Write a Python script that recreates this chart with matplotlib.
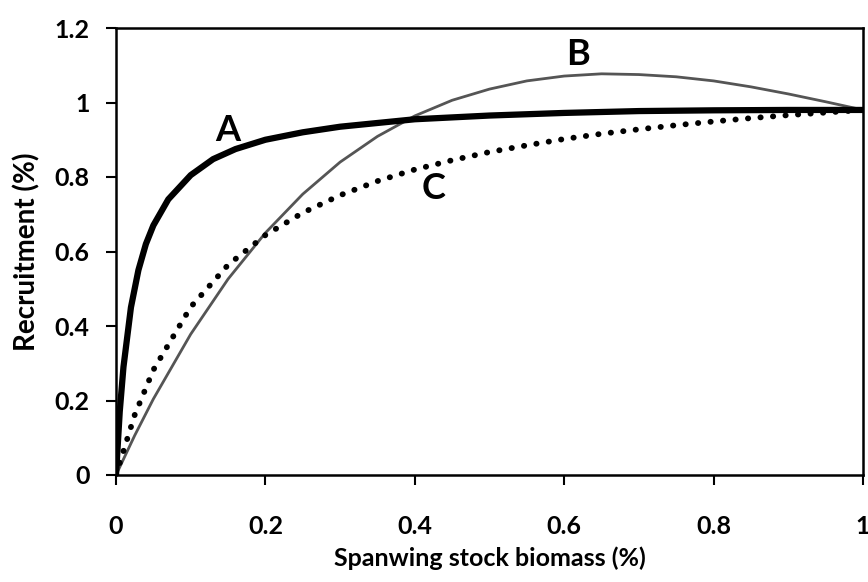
import matplotlib
matplotlib.use("Agg")
import matplotlib.pyplot as plt

# Data
x_a = [0, 0.005, 0.01, 0.02, 0.03, 0.04, 0.05, 0.07, 0.1, 0.13, 0.16, 0.2, 0.25, 0.3, 0.4, 0.5, 0.6, 0.7, 0.8, 0.9, 1.0]
y_a = [0, 0.17, 0.29, 0.45, 0.55, 0.62, 0.67, 0.74, 0.805, 0.848, 0.875, 0.90, 0.92, 0.935, 0.955, 0.965, 0.972, 0.977, 0.979, 0.98, 0.98]

x_b = [0, 0.025, 0.05, 0.1, 0.15, 0.2, 0.25, 0.3, 0.35, 0.4, 0.45, 0.5, 0.55, 0.6, 0.65, 0.7, 0.75, 0.8, 0.85, 0.9, 0.95, 1.0]
y_b = [0, 0.106, 0.204, 0.378, 0.526, 0.65, 0.754, 0.84, 0.909, 0.964, 1.006, 1.036, 1.058, 1.071, 1.077, 1.075, 1.069, 1.058, 1.042, 1.023, 1.002, 0.98]

x_c = [0, 0.025, 0.05, 0.1, 0.15, 0.2, 0.25, 0.3, 0.35, 0.4, 0.45, 0.5, 0.55, 0.6, 0.65, 0.7, 0.75, 0.8, 0.85, 0.9, 0.95, 1.0]
y_c = [0, 0.161, 0.282, 0.451, 0.564, 0.644, 0.704, 0.751, 0.789, 0.82, 0.845, 0.867, 0.885, 0.902, 0.916, 0.928, 0.939, 0.949, 0.958, 0.966, 0.973, 0.98]

curve_labels = ["A", "B", "C"]
label_pos = [(0.149, 0.925), (0.619, 1.128), (0.425, 0.768)]

x_ticks = [0, 0.2, 0.4, 0.6, 0.8, 1]
x_tick_labels = ["0", "0.2", "0.4", "0.6", "0.8", "1"]
y_ticks = [0, 0.2, 0.4, 0.6, 0.8, 1, 1.2]
y_tick_labels = ["0", "0.2", "0.4", "0.6", "0.8", "1", "1.2"]

plt.rcParams['font.family'] = ['Lato', 'DejaVu Sans']

fig = plt.figure(figsize=(8.68, 5.82), dpi=100)
ax = fig.add_axes([116/868, 1-475/582, (863-116)/868, (475-28)/582])

ax.plot(x_b, y_b, color='#555555', lw=2.0, solid_capstyle='round', zorder=2)
ax.plot(x_c, y_c, color='black', lw=4.2, linestyle=(0, (0.05, 2.1)), dash_capstyle='round', zorder=3)
ax.plot(x_a, y_a, color='black', lw=4.5, solid_capstyle='round', zorder=4)

for lab, (lx, ly) in zip(curve_labels, label_pos):
    ax.text(lx, ly, lab, fontsize=26, fontweight='bold', ha='center', va='center', color='black')

ax.set_xlim(0, 1)
ax.set_ylim(0, 1.2)
ax.set_xticks(x_ticks)
ax.set_xticklabels(x_tick_labels, fontweight='bold')
ax.set_yticks(y_ticks)
ax.set_yticklabels(y_tick_labels, fontweight='bold')
ax.tick_params(axis='both', direction='out', length=7, width=1.5, labelsize=18, colors='black')
ax.tick_params(axis='x', pad=22)
ax.tick_params(axis='y', pad=12)
for s in ax.spines.values():
    s.set_linewidth(1.8)
    s.set_color('black')

ax.set_xlabel("Spanwing stock biomass (%)", fontsize=18, fontweight='bold', labelpad=6)
ax.set_ylabel("Recruitment (%)", fontsize=20, fontweight='bold', labelpad=10)

fig.savefig("out.png", dpi=100)
